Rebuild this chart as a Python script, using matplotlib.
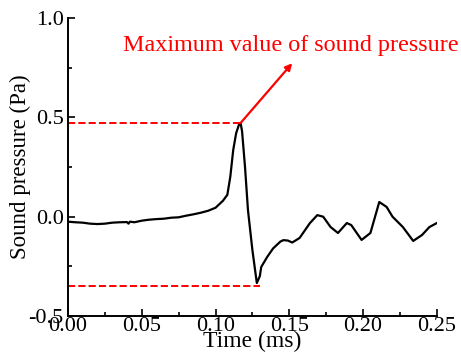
import matplotlib
matplotlib.use("Agg")
import matplotlib.pyplot as plt
from matplotlib.ticker import MultipleLocator

plt.rcParams["font.family"] = ["Liberation Serif", "DejaVu Serif"]
plt.rcParams["axes.unicode_minus"] = False

# time (ms) and sound pressure (Pa)
time_ms = [0.000, 0.005, 0.010, 0.015, 0.020, 0.025, 0.030, 0.035, 0.040, 0.041,
           0.042, 0.045, 0.050, 0.055, 0.060, 0.065, 0.070, 0.075, 0.080, 0.085,
           0.090, 0.095, 0.100, 0.105, 0.108, 0.110, 0.112, 0.114, 0.116, 0.117,
           0.118, 0.120, 0.122, 0.125, 0.128, 0.130, 0.131, 0.135, 0.139, 0.144,
           0.146, 0.149, 0.152, 0.157, 0.164, 0.169, 0.173, 0.178, 0.183, 0.189,
           0.192, 0.199, 0.205, 0.211, 0.216, 0.220, 0.227, 0.234, 0.240, 0.245,
           0.250]
pressure = [-0.025, -0.028, -0.030, -0.035, -0.037, -0.035, -0.030, -0.028, -0.027, -0.035,
            -0.025, -0.028, -0.020, -0.015, -0.012, -0.010, -0.005, -0.003, 0.005, 0.012,
            0.020, 0.030, 0.045, 0.080, 0.110, 0.200, 0.336, 0.421, 0.466, 0.472,
            0.430, 0.250, 0.033, -0.168, -0.334, -0.300, -0.253, -0.203, -0.160, -0.125,
            -0.118, -0.120, -0.130, -0.107, -0.032, 0.008, 0.000, -0.052, -0.082, -0.032,
            -0.042, -0.117, -0.082, 0.074, 0.049, 0.000, -0.052, -0.122, -0.092, -0.052,
            -0.032]

peak_t, peak_p = 0.117, 0.472
trough_t, trough_p = 0.130, -0.349
note = "Maximum value of sound pressure"

fig = plt.figure(figsize=(4.61, 3.63), dpi=100)
ax = fig.add_axes([0.1475, 0.1295, 0.8, 0.8205])

ax.plot(time_ms, pressure, color="black", lw=1.6)
ax.plot([0, peak_t], [peak_p, peak_p], color="red", ls="--", lw=1.4)
ax.plot([0, trough_t], [trough_p, trough_p], color="red", ls="--", lw=1.4)
ax.annotate("", xy=(0.152, 0.773), xytext=(peak_t, peak_p),
            arrowprops=dict(arrowstyle="-|>", color="red", lw=1.6, mutation_scale=10,
                            shrinkA=0, shrinkB=0))
ax.text(0.037, 0.864, note, color="red", fontsize=17.4, va="center", ha="left",
        clip_on=False)

ax.set_xlim(0, 0.25)
ax.set_ylim(-0.5, 1.0)
ax.xaxis.set_major_locator(MultipleLocator(0.05))
ax.xaxis.set_minor_locator(MultipleLocator(0.025))
ax.yaxis.set_major_locator(MultipleLocator(0.5))
ax.yaxis.set_minor_locator(MultipleLocator(0.25))
ax.xaxis.set_major_formatter(plt.FormatStrFormatter("%.2f"))
ax.yaxis.set_major_formatter(plt.FormatStrFormatter("%.1f"))
ax.tick_params(which="both", direction="in", width=1.2, labelsize=16)
ax.tick_params(axis="x", pad=1)
ax.tick_params(axis="y", pad=3)
ax.tick_params(which="major", length=5)
ax.tick_params(which="minor", length=3)
for s in ["top", "right"]:
    ax.spines[s].set_visible(False)
for s in ["left", "bottom"]:
    ax.spines[s].set_linewidth(1.4)

ax.set_xlabel("Time (ms)", fontsize=17, labelpad=-4)
ax.set_ylabel("Sound pressure (Pa)", fontsize=16.5, labelpad=-2)

fig.savefig("out.png", dpi=100)
